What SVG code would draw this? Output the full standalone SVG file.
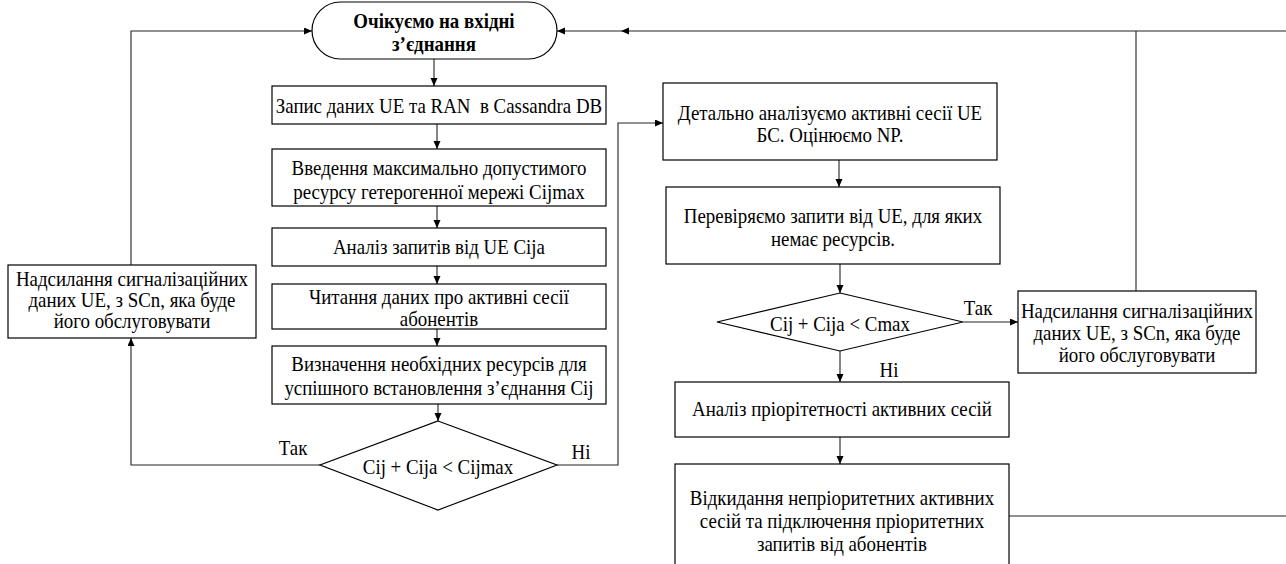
<svg xmlns="http://www.w3.org/2000/svg" width="1286" height="564" viewBox="0 0 1286 564">
<style>
.box{fill:#fff;stroke:#000;stroke-width:1.2}
.t{font-family:"Liberation Serif","DejaVu Serif",serif;font-size:21px;fill:#000;text-anchor:middle}
.b{font-weight:bold}
.c{fill:none;stroke:#222;stroke-width:1.1}
</style>
<defs>
<marker id="ah" markerUnits="userSpaceOnUse" markerWidth="9" markerHeight="8" refX="8" refY="3.5" orient="auto">
<path d="M0,0 L8,3.5 L0,7 z" fill="#000"/>
</marker>
</defs>
<rect width="1286" height="564" fill="#fff"/>
<g id="connectors">
<line class="c" x1="434" y1="59" x2="434" y2="86" marker-end="url(#ah)"/>
<line class="c" x1="437" y1="124" x2="437" y2="149" marker-end="url(#ah)"/>
<line class="c" x1="437" y1="206" x2="437" y2="228" marker-end="url(#ah)"/>
<line class="c" x1="437" y1="266" x2="437" y2="284" marker-end="url(#ah)"/>
<line class="c" x1="437" y1="329" x2="437" y2="346" marker-end="url(#ah)"/>
<line class="c" x1="438" y1="404" x2="438" y2="421" marker-end="url(#ah)"/>
<polyline class="c" points="320,465 131,465 131,338" marker-end="url(#ah)"/>
<polyline class="c" points="131,265 131,31 312,31" marker-end="url(#ah)"/>
<polyline class="c" points="557,465 618,465 618,123 663,123" marker-end="url(#ah)"/>
<line class="c" x1="839" y1="160" x2="839" y2="187" marker-end="url(#ah)"/>
<line class="c" x1="840" y1="264" x2="840" y2="293" marker-end="url(#ah)"/>
<line class="c" x1="963" y1="322" x2="1018" y2="322" marker-end="url(#ah)"/>
<line class="c" x1="840" y1="351" x2="840" y2="382" marker-end="url(#ah)"/>
<line class="c" x1="840" y1="437" x2="840" y2="464" marker-end="url(#ah)"/>
<line class="c" x1="1009" y1="516" x2="1286" y2="516"/>
<line class="c" x1="1136" y1="291" x2="1136" y2="31"/>
<line class="c" x1="1286" y1="31" x2="621" y2="31" marker-end="url(#ah)"/>
<line class="c" x1="621" y1="31" x2="557" y2="31" marker-end="url(#ah)"/>
<text class="t" transform="matrix(0.9 0 0 1 29.3 0)" x="293" y="455">Так</text>
<text class="t" transform="matrix(0.9 0 0 1 58.1 0)" x="581" y="459">Ні</text>
<text class="t" transform="matrix(0.9 0 0 1 97.8 0)" x="978" y="315">Так</text>
<text class="t" transform="matrix(0.9 0 0 1 88.9 0)" x="889" y="377">Ні</text>
</g>
<g id="start">
<rect class="box" x="312" y="2" width="245" height="57" rx="28.5" ry="28.5"/>
<g transform="matrix(0.9 0 0 1 43.4 0)">
<text class="t b" x="434" y="28">Очікуємо на вхідні</text>
<text class="t b" x="434" y="51">з’єднання</text>
</g>
</g>
<g id="n1">
<rect class="box" x="272" y="86" width="334" height="38"/>
<g transform="matrix(0.9 0 0 1 43.9 0)">
<text class="t" x="439" y="113" xml:space="preserve">Запис даних UE та RAN  в Cassandra DB</text>
</g>
</g>
<g id="n2">
<rect class="box" x="272" y="149" width="334" height="57"/>
<g transform="matrix(0.9 0 0 1 43.9 0)">
<text class="t" x="439" y="175">Введення максимально допустимого</text>
<text class="t" x="439" y="199">ресурсу гетерогенної мережі Cijmax</text>
</g>
</g>
<g id="n3">
<rect class="box" x="272" y="228" width="334" height="38"/>
<g transform="matrix(0.9 0 0 1 43.9 0)">
<text class="t" x="439" y="254">Аналіз запитів від UE Cija</text>
</g>
</g>
<g id="n4">
<rect class="box" x="272" y="284" width="334" height="45"/>
<g transform="matrix(0.9 0 0 1 43.9 0)">
<text class="t" x="439" y="304">Читання даних про активні сесії</text>
<text class="t" x="439" y="326">абонентів</text>
</g>
</g>
<g id="n5">
<rect class="box" x="272" y="346" width="334" height="58"/>
<g transform="matrix(0.9 0 0 1 43.9 0)">
<text class="t" x="439" y="371">Визначення необхідних ресурсів для</text>
<text class="t" x="439" y="395">успішного встановлення з’єднання Cij</text>
</g>
</g>
<g id="d1">
<polygon class="box" points="438,421 557,465 438,510 320,465"/>
<g transform="matrix(0.9 0 0 1 43.8 0)">
<text class="t" x="438" y="474">Cij + Cija &lt; Cijmax</text>
</g>
</g>
<g id="left">
<rect class="box" x="8" y="265" width="248" height="73"/>
<g transform="matrix(0.9 0 0 1 13.2 0)">
<text class="t" x="132" y="286">Надсилання сигналізаційних</text>
<text class="t" x="132" y="307">даних UE, з SCn, яка буде</text>
<text class="t" x="132" y="328">його обслуговувати</text>
</g>
</g>
<g id="r1">
<rect class="box" x="663" y="83" width="334" height="77"/>
<g transform="matrix(0.9 0 0 1 83 0)">
<text class="t" x="830" y="120">Детально аналізуємо активні сесії UE</text>
<text class="t" x="830" y="142">БС. Оцінюємо NP.</text>
</g>
</g>
<g id="r2">
<rect class="box" x="666" y="187" width="334" height="77"/>
<g transform="matrix(0.9 0 0 1 83.3 0)">
<text class="t" x="833" y="223">Перевіряємо запити від UE, для яких</text>
<text class="t" x="833" y="246">немає ресурсів.</text>
</g>
</g>
<g id="d2">
<polygon class="box" points="840,293 963,322 840,351 717,322"/>
<g transform="matrix(0.9 0 0 1 84 0)">
<text class="t" x="840" y="331">Cij + Cija &lt; Cmax</text>
</g>
</g>
<g id="right">
<rect class="box" x="1018" y="291" width="238" height="82"/>
<g transform="matrix(0.9 0 0 1 113.7 0)">
<text class="t" x="1137" y="318">Надсилання сигналізаційних</text>
<text class="t" x="1137" y="340">даних UE, з SCn, яка буде</text>
<text class="t" x="1137" y="362">його обслуговувати</text>
</g>
</g>
<g id="r3">
<rect class="box" x="675" y="382" width="334" height="55"/>
<g transform="matrix(0.9 0 0 1 84.2 0)">
<text class="t" x="842" y="416">Аналіз пріорітетності активних сесій</text>
</g>
</g>
<g id="r4">
<rect class="box" x="675" y="464" width="334" height="106"/>
<g transform="matrix(0.9 0 0 1 84.2 0)">
<text class="t" x="842" y="505">Відкидання непріоритетних активних</text>
<text class="t" x="842" y="528">сесій та підключення пріоритетних</text>
<text class="t" x="842" y="551">запитів від абонентів</text>
</g>
</g>
</svg>
